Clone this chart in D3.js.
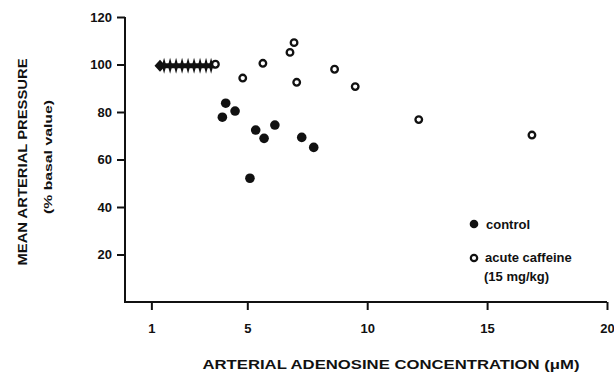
<!DOCTYPE html>
<html>
<head>
<meta charset="utf-8">
<script src="https://cdn.jsdelivr.net/npm/d3@7"></script>
<style>
  body { margin: 0; background: #fff; }
  text { font-family: "Liberation Sans", Arial, sans-serif; font-weight: bold; fill: #111; }
</style>
</head>
<body>
<div id="chart"></div>
<script>
// data
const controlX = [4.1, 4.49, 3.96, 5.35, 6.15, 5.7, 7.27, 7.77, 5.11];
const controlY = [83.7, 80.4, 77.8, 72.4, 74.5, 68.9, 69.3, 65.1, 52.1];
const caffeineX = [3.67, 4.81, 5.65, 6.78, 6.95, 7.06, 8.64, 9.5, 12.15, 16.87];
const caffeineY = [100.1, 94.3, 100.5, 105.1, 109.2, 92.5, 98, 90.7, 76.8, 70.3];
// baseline points, all at 100 % (stacked into one spiky bar)
const baselineX = [1.36, 1.53, 1.78, 2.03, 2.28, 2.53, 2.78, 3.03, 3.28, 3.49];
const baselineY = 99.5;
const xTicks = [1, 5, 10, 15, 20];
const yTicks = [20, 40, 60, 80, 100, 120];

const width = 614, height = 377;

const svg = d3.select("#chart").append("svg")
    .attr("width", width)
    .attr("height", height);

const x = d3.scaleLinear().domain([-0.1, 20]).range([125, 607]);
const y = d3.scaleLinear().domain([0, 120]).range([302, 17]);

// axes
const xAxis = svg.append("g")
    .attr("transform", `translate(0, ${y(0)})`)
    .call(d3.axisBottom(x).tickValues(xTicks).tickSize(8).tickPadding(14).tickSizeOuter(0));
const yAxis = svg.append("g")
    .attr("transform", `translate(${x(-0.1)}, 0)`)
    .call(d3.axisLeft(y).tickValues(yTicks).tickSize(8).tickPadding(5).tickSizeOuter(0));

[xAxis, yAxis].forEach(g => {
    g.select(".domain").attr("stroke", "#111").attr("stroke-width", 2);
    g.selectAll(".tick line").attr("stroke", "#111").attr("stroke-width", 2);
    g.selectAll(".tick text")
        .style("font-family", "'Liberation Sans', Arial, sans-serif")
        .style("font-weight", "bold")
        .style("font-size", "13px")
        .attr("fill", "#111");
});
// x domain reaches slightly past the y axis
xAxis.select(".domain").attr("d", `M${x(-0.1) - 1},0H${x(20)}`);
yAxis.select(".domain").attr("d", `M0,${y(0) + 1}V${y(120)}`);

// baseline bar: thick band, arrow tip on the left, thin spikes
svg.append("line")
    .attr("x1", x(baselineX[0]))
    .attr("x2", x(caffeineX[0]))
    .attr("y1", y(baselineY)).attr("y2", y(baselineY))
    .attr("stroke", "#111").attr("stroke-width", 5);
svg.append("line")
    .attr("x1", x(baselineX[baselineX.length - 1]))
    .attr("x2", x(caffeineX[0]))
    .attr("y1", y(baselineY)).attr("y2", y(baselineY))
    .attr("stroke", "#111").attr("stroke-width", 3);

const spike = (w, h) => ({
    draw(ctx) {
        ctx.moveTo(-w, 0);
        ctx.lineTo(0, -h);
        ctx.lineTo(w, 0);
        ctx.lineTo(0, h);
        ctx.closePath();
    }
});
svg.append("g").selectAll("path")
    .data(baselineX)
    .join("path")
    .attr("d", (d, i) => d3.symbol().type(i === 0 ? spike(5.5, 6) : spike(2.2, 8))())
    .attr("transform", d => `translate(${x(d)}, ${y(baselineY)})`)
    .attr("fill", "#111");

// control points
svg.append("g").selectAll("circle")
    .data(controlX.map((d, i) => [d, controlY[i]]))
    .join("circle")
    .attr("cx", d => x(d[0]))
    .attr("cy", d => y(d[1]))
    .attr("r", 4.8)
    .attr("fill", "#111");

// acute caffeine points
svg.append("g").selectAll("circle")
    .data(caffeineX.map((d, i) => [d, caffeineY[i]]))
    .join("circle")
    .attr("cx", d => x(d[0]))
    .attr("cy", d => y(d[1]))
    .attr("r", 3.3)
    .attr("fill", "#fff")
    .attr("stroke", "#111")
    .attr("stroke-width", 2.3);

// axis titles
svg.append("text")
    .attr("transform", "translate(27, 162) rotate(-90)")
    .attr("text-anchor", "middle")
    .attr("textLength", 207)
    .attr("lengthAdjust", "spacingAndGlyphs")
    .style("font-size", "13px")
    .text("MEAN ARTERIAL PRESSURE");
svg.append("text")
    .attr("transform", "translate(52, 157) rotate(-90)")
    .attr("text-anchor", "middle")
    .attr("textLength", 114)
    .attr("lengthAdjust", "spacingAndGlyphs")
    .style("font-size", "11px")
    .text("(% basal value)");
svg.append("text")
    .attr("x", 391).attr("y", 369)
    .attr("text-anchor", "middle")
    .attr("textLength", 377)
    .attr("lengthAdjust", "spacingAndGlyphs")
    .style("font-size", "13px")
    .text("ARTERIAL ADENOSINE CONCENTRATION (\u03BCM)");

// legend
const legend = svg.append("g");
legend.append("circle").attr("cx", 474).attr("cy", 224).attr("r", 4.3).attr("fill", "#111");
legend.append("text").attr("x", 486).attr("y", 229).style("font-size", "13px").text("control");
legend.append("circle").attr("cx", 474).attr("cy", 258).attr("r", 3.2)
    .attr("fill", "#fff").attr("stroke", "#111").attr("stroke-width", 2.2);
legend.append("text").attr("x", 485).attr("y", 262).style("font-size", "13px").text("acute caffeine");
legend.append("text").attr("x", 484).attr("y", 281).style("font-size", "13px").text("(15 mg/kg)");
</script>
</body>
</html>
